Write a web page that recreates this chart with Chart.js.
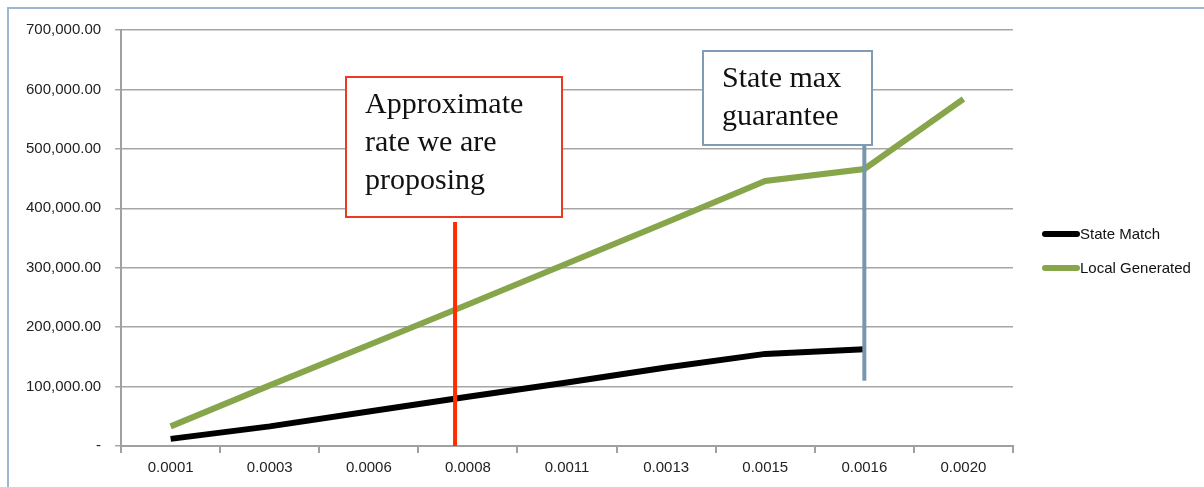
<!DOCTYPE html>
<html>
<head>
<meta charset="utf-8">
<script src="https://cdn.jsdelivr.net/npm/chart.js@4"></script>
<style>
  html, body { margin: 0; padding: 0; background: #fff; }
  #wrap { position: relative; width: 1204px; height: 487px; }
  #frame { position: absolute; left: 7px; top: 7px; right: -4px; bottom: -4px; border: 2px solid #9fb6d3; border-right: none; border-bottom: none; }
</style>
</head>
<body>
<div id="wrap">
  <div id="frame"></div>
  <canvas id="rateChart" width="1204" height="487"></canvas>
</div>
<script>
const rates = ["0.0001", "0.0003", "0.0006", "0.0008", "0.0011", "0.0013", "0.0015", "0.0016", "0.0020"];
const stateMatch = [12000, 33000, 58000, 83000, 107000, 132000, 155000, 163000, null];
const localGenerated = [33000, 102000, 170000, 238000, 307000, 376000, 446000, 466000, 584000];
const yTicks = [0, 100000, 200000, 300000, 400000, 500000, 600000, 700000];

// callout boxes and their pointer lines (text + style only)
const callouts = [
  { lines: ["Approximate", "rate we are", "proposing"], color: "#ec3a1e", lineColor: "#ff2d00",
    box: [346, 77, 216, 140], lineAt: 2.87, lineTop: 222, lineBottomValue: 0 },
  { lines: ["State max", "guarantee"], color: "#7f9cb4", lineColor: "#7797ae",
    box: [703, 51, 169, 94], lineAt: 7, lineTop: 145, lineBottomValue: 110000 }
];

function fmt(v) {
  if (v === 0) return "-";
  return v.toLocaleString("en-US", { minimumFractionDigits: 2, maximumFractionDigits: 2 });
}

const calloutPlugin = {
  id: "callouts",
  afterDatasetsDraw(chart) {
    const ctx = chart.ctx;
    const x = chart.scales.x, y = chart.scales.y;
    const step = x.getPixelForValue(1) - x.getPixelForValue(0);
    callouts.forEach((c) => {
      const lx = x.getPixelForValue(0) + c.lineAt * step;
      ctx.save();
      ctx.strokeStyle = c.lineColor;
      ctx.lineWidth = 4;
      ctx.beginPath();
      ctx.moveTo(lx, c.lineTop);
      ctx.lineTo(lx, y.getPixelForValue(c.lineBottomValue));
      ctx.stroke();
      const [bx, by, bw, bh] = c.box;
      ctx.fillStyle = "#fff";
      ctx.fillRect(bx, by, bw, bh);
      ctx.strokeStyle = c.color;
      ctx.lineWidth = 2;
      ctx.strokeRect(bx, by, bw, bh);
      ctx.fillStyle = "#111";
      ctx.font = "30px 'Liberation Serif'";
      ctx.textBaseline = "alphabetic";
      c.lines.forEach((t, i) => ctx.fillText(t, bx + 19, by + 36 + i * 38));
      ctx.restore();
    });
  },
  afterDraw(chart) {
    // legend on the right
    const ctx = chart.ctx;
    ctx.save();
    chart.data.datasets.forEach((ds, i) => {
      const ly = 234 + i * 34;
      ctx.strokeStyle = ds.borderColor;
      ctx.lineWidth = 6;
      ctx.lineCap = "round";
      ctx.beginPath();
      ctx.moveTo(1045, ly);
      ctx.lineTo(1077, ly);
      ctx.stroke();
      ctx.fillStyle = "#111";
      ctx.font = "15px 'Liberation Sans'";
      ctx.textBaseline = "middle";
      ctx.fillText(ds.label, 1080, ly + 1);
    });
    ctx.restore();
  }
};

new Chart(document.getElementById("rateChart").getContext("2d"), {
  type: "line",
  data: {
    labels: rates,
    datasets: [
      { label: "State Match", data: stateMatch, borderColor: "#000000", borderWidth: 6, pointRadius: 0, tension: 0 },
      { label: "Local Generated", data: localGenerated, borderColor: "#87a54a", borderWidth: 6, pointRadius: 0, tension: 0 }
    ]
  },
  options: {
    responsive: false,
    animation: false,
    layout: { padding: { left: 12, top: 30, right: 191, bottom: 4 } },
    scales: {
      x: {
        offset: true,
        grid: { offset: true, drawOnChartArea: false, color: "#a0a0a0", lineWidth: 2, tickLength: 7 },
        border: { color: "#a0a0a0", width: 2 },
        ticks: { color: "#222", font: { family: "Liberation Sans", size: 15 }, padding: 6, maxRotation: 0 }
      },
      y: {
        min: 0, max: 700000,
        afterBuildTicks(axis) { axis.ticks = yTicks.map((v) => ({ value: v })); },
        grid: { color: "#a6a6a6", lineWidth: 1.5, tickLength: 6 },
        border: { color: "#a0a0a0", width: 2 },
        ticks: { color: "#222", font: { family: "Liberation Sans", size: 15 }, padding: 14, callback: fmt }
      }
    },
    plugins: { legend: { display: false }, tooltip: { enabled: false } }
  },
  plugins: [calloutPlugin]
});
</script>
</body>
</html>
